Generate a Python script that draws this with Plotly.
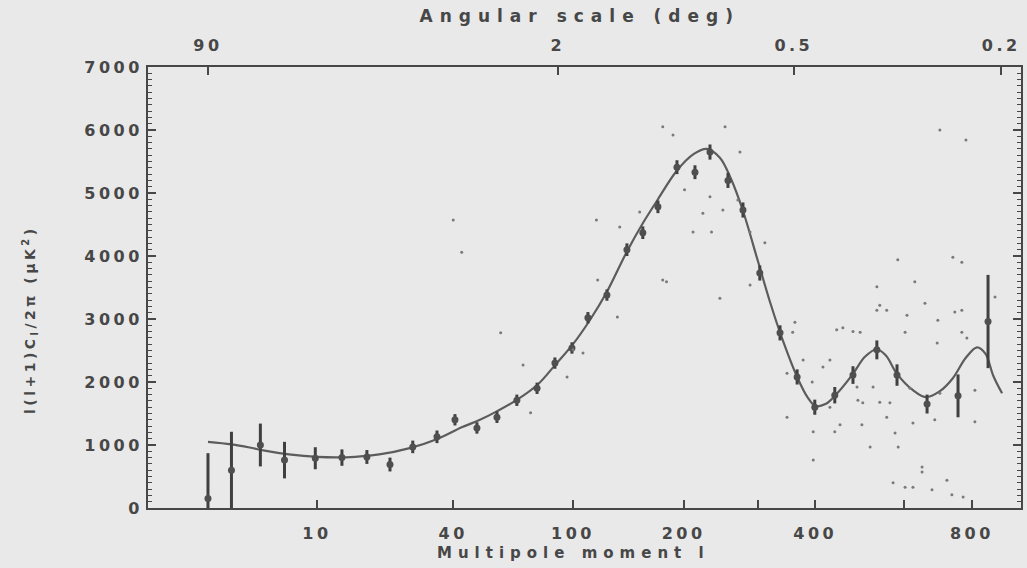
import numpy as np
import plotly.graph_objects as go

# ---- data (multipole l, l(l+1)C_l/2pi in uK^2) ----
bin_l = [2, 3, 4.7, 6.6, 9.8, 13.4, 17.6, 22.3, 27.8, 34.7, 40.6, 48.8, 57.3, 66.8,
         77.6, 88.2, 99.3, 110.6, 125.3, 142.3, 157, 172, 192.4, 213.3, 232, 256,
         277.4, 303, 336, 366, 399, 439, 478, 533, 583, 664, 756, 854]
bin_val = [150, 600, 1000, 760, 790, 800, 810, 690, 970, 1130, 1400, 1270, 1440, 1710,
           1900, 2300, 2540, 3020, 3380, 4100, 4370, 4780, 5410, 5330, 5650, 5200,
           4730, 3730, 2780, 2080, 1600, 1790, 2110, 2510, 2110, 1650, 1780, 2960]
bin_err = [720, 610, 340, 290, 175, 130, 110, 110, 100, 100, 90, 90, 90, 90,
           90, 90, 90, 90, 90, 100, 100, 100, 110, 110, 120, 120,
           120, 120, 120, 120, 120, 130, 140, 150, 170, 150, 340, 740]

model_l = [2, 3, 4, 5, 7, 10, 14, 20, 27, 35, 43, 50, 57, 67, 78, 88, 100, 112, 125,
           142, 157, 172, 192, 212, 228, 245, 260, 277, 300, 320, 340, 366, 385, 400,
           420, 445, 478, 505, 533, 555, 583, 625, 660, 700, 740, 780, 817, 845, 872, 903]
model_val = [1050, 1010, 960, 910, 850, 810, 805, 850, 950, 1100, 1280, 1400, 1530, 1720,
             1960, 2260, 2600, 2980, 3420, 4060, 4520, 4900, 5350, 5620, 5700, 5560, 5230,
             4730, 3920, 3250, 2680, 2080, 1760, 1620, 1650, 1830, 2130, 2400, 2520, 2420,
             2130, 1870, 1760, 1850, 2060, 2380, 2550, 2450, 2100, 1820]

dots_l = [585, 740, 768, 533, 630, 540, 533, 557, 658, 746, 768, 478, 494, 456, 443, 362,
          358, 609, 695, 604, 693, 768, 784, 878, 377, 415, 429, 348, 394, 487, 489, 500,
          540, 565, 524, 617, 701, 810, 810, 686, 557, 450, 396, 439, 498, 578, 625, 429,
          348, 396, 517, 586, 650, 650, 573, 604, 625, 722, 678, 737, 772,
          177, 188, 252, 273, 201, 232, 270, 211, 234, 249, 288, 181, 245, 288, 311, 117,
          136, 154, 177, 223, 118, 134, 107, 96, 100, 70, 74, 59, 43, 40, 701, 781]
dots_val = [3940, 3980, 3900, 3510, 3590, 3220, 3140, 3140, 3250, 3110, 3140, 2800, 2790,
            2860, 2830, 2950, 2790, 3060, 2980, 2790, 2620, 2790, 2700, 3350, 2350, 2240,
            2350, 2140, 2000, 1920, 1710, 1670, 1680, 1670, 1920, 1900, 1820, 1870, 1370,
            1400, 1440, 1320, 1210, 1210, 1320, 1190, 1350, 1600, 1440, 760, 970, 970, 650,
            570, 400, 330, 330, 440, 290, 210, 175,
            6050, 5920, 6050, 5650, 5050, 4940, 4890, 4380, 4380, 4730, 4380, 3590, 3330,
            3540, 4210, 4570, 4460, 4700, 3620, 4680, 3620, 3030, 2460, 2080, 2510, 2270,
            1510, 2780, 4060, 4570, 6000, 5840]

l_ticks = [10, 40, 100, 200, 400, 800]
l_ticktext = ["10", "40", "100", "200", "400", "800"]
l_minor = [300, 600]
deg_ticks = [90, 2, 0.5, 0.2]
deg_ticktext = ["90", "2", "0.5", "0.2"]
y_ticks = [0, 1000, 2000, 3000, 4000, 5000, 6000, 7000]


def scale(l):
    # the chart's multipole axis is roughly linear in l**0.25
    return np.asarray(l, dtype=float) ** 0.25


INK = "#474747"
FONT = dict(family="DejaVu Sans", size=16, color=INK, weight="bold")

fig = go.Figure()
fig.add_trace(go.Scatter(
    x=scale(dots_l), y=dots_val, mode="markers", xaxis="x2", yaxis="y2",
    marker=dict(size=3, color="#7a7a7a"), hoverinfo="skip", showlegend=False))
fig.add_trace(go.Scatter(
    x=scale(model_l), y=model_val, mode="lines",
    line=dict(color="#5c5c5c", width=2.2, shape="spline"), showlegend=False))
fig.add_trace(go.Scatter(
    x=scale(bin_l), y=bin_val, mode="markers",
    marker=dict(size=7, color="#4f4f4f"),
    error_y=dict(type="data", array=bin_err, color="#404040", thickness=3, width=0),
    showlegend=False))

xr = [0.865, 5.584]
yr = [0, 7000]
axis_common = dict(showgrid=False, zeroline=False, showline=True, linecolor=INK, linewidth=2,
                   ticks="inside", ticklen=8, tickwidth=2, tickcolor=INK, tickfont=FONT)
yminor = dict(dtick=100, ticklen=4, tickwidth=1, tickcolor=INK, ticks="inside")

fig.update_layout(
    width=1027, height=568,
    margin=dict(l=148, r=6, t=67, b=60),
    paper_bgcolor="#e9e9e9", plot_bgcolor="#e9e9e9",
    xaxis=dict(range=xr, tickmode="array", tickvals=scale(l_ticks), ticktext=l_ticktext,
               ticklabelstandoff=10,
               minor=dict(tickmode="array", tickvals=scale(l_minor), ticklen=8, tickwidth=2,
                          tickcolor=INK, ticks="inside"),
               **axis_common),
    xaxis2=dict(range=xr, overlaying="x", side="top", anchor="y2", tickmode="array",
                tickvals=scale([180.0 / d for d in deg_ticks]), ticktext=deg_ticktext,
                ticklabelstandoff=8, **axis_common),
    yaxis=dict(range=yr, tickmode="array", tickvals=y_ticks, ticklabelstandoff=0,
               minor=yminor, **axis_common),
    yaxis2=dict(range=yr, overlaying="y", side="right", anchor="x2", tickmode="array",
                tickvals=y_ticks, showticklabels=False, minor=yminor, **axis_common),
    annotations=[
        dict(text="Angular scale (deg)", x=0.494, y=1.116, xref="paper", yref="paper",
             showarrow=False, font=dict(FONT, size=17), xanchor="center", yanchor="middle"),
        dict(text="Multipole moment l", x=0.487, y=-0.102, xref="paper", yref="paper",
             showarrow=False, font=dict(FONT, size=15), xanchor="center", yanchor="middle"),
        dict(text="l(l+1)C<sub>l</sub>/2π (μK<sup>2</sup>)", x=-0.135, y=0.426, xref="paper",
             yref="paper", showarrow=False, textangle=-90, font=dict(FONT, size=14),
             xanchor="center", yanchor="middle"),
    ],
)

# the scanned original uses a wide, widely spaced lettering
post = """
var gd = document.getElementById('{plot_id}');
function sp(sel, v) { gd.querySelectorAll(sel).forEach(function (t) { t.style.letterSpacing = v; }); }
sp('.xtick text', '3.5px');
sp('.x2tick text', '3.5px');
sp('.ytick text', '3.5px');
var ann = gd.querySelectorAll('.annotation-text');
if (ann.length > 2) {
  ann[0].style.letterSpacing = '7px';
  ann[1].style.letterSpacing = '6px';
  ann[2].style.letterSpacing = '3.5px';
}
"""

fig.write_html("out.html", post_script=post)
